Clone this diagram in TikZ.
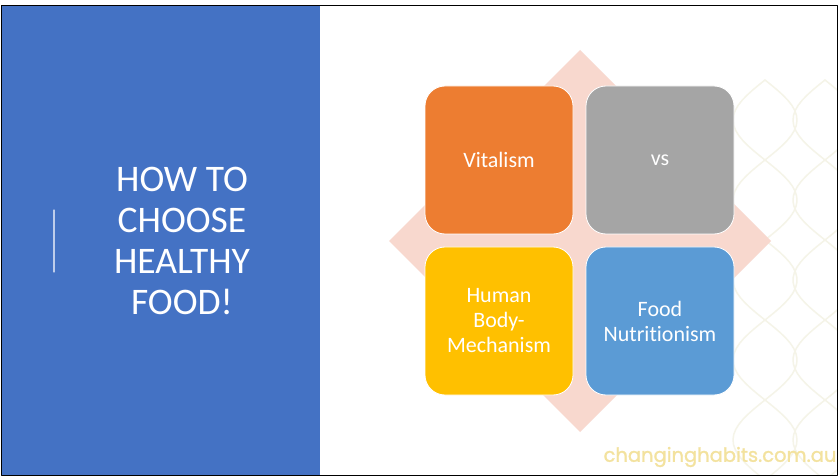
\documentclass[tikz,border=0pt]{standalone}
\usepackage{fontspec}
\setmainfont{Carlito}[Ligatures=NoCommon]
\newfontfamily\webfont{Poppins}[FakeBold=1.2]
\definecolor{Panel}{RGB}{68,114,196}
\definecolor{Dfill}{RGB}{248,216,206}
\definecolor{Ofill}{RGB}{237,125,49}
\definecolor{Gfill}{RGB}{165,165,165}
\definecolor{Yfill}{RGB}{255,192,0}
\definecolor{Bfill}{RGB}{91,155,213}
\definecolor{Mark}{RGB}{243,226,158}
\definecolor{Wave}{RGB}{245,244,232}
\definecolor{Rule}{RGB}{190,205,235}
\begin{document}
\begin{tikzpicture}[x=1pt,y=-1pt,line cap=round,line join=round,
  tile/.style={rectangle,rounded corners=20pt,draw=white,line width=0.8pt,minimum width=148pt,minimum height=148pt,inner sep=0pt,text=white,align=center,font=\fontsize{22}{25}\selectfont},
  wave/.style={draw=Wave,line width=1.5pt}]
\path[use as bounding box] (0,0) rectangle (839,476);
\fill[white] (0,0) rectangle (839,476);
\begin{scope}
\clip (320,5) rectangle (837,475);
\foreach \c in {765,825} {
  \draw[wave] plot[domain=80:480,samples=80] ({\c+32*sin(2.25*\x)},\x);
  \draw[wave] plot[domain=80:480,samples=80] ({\c-32*sin(2.25*\x)},\x);
}
\end{scope}
\fill[Panel] (1,5) rectangle (320,475);
\draw[Rule,line width=1.2pt] (54,210) -- (54,272);
\node[text=white,align=center,font=\fontsize{37.5}{41}\selectfont] (title) at (182,241) {HOW TO\\CHOOSE\\HEALTHY\\FOOD!};
\fill[Dfill] (580,50) -- (771,241) -- (580,432) -- (389,241) -- cycle;
\node[tile,fill=Ofill] (vital) at (499,160) {Vitalism};
\node[tile,fill=Gfill] (versus) at (660,160) {vs};
\node[tile,fill=Yfill] (body) at (499,321) {Human\\Body-\\Mechanism};
\node[tile,fill=Bfill] (nutri) at (660,321) {Food\\Nutritionism};
\node[text=Mark,font=\webfont\fontsize{19.5}{20}\selectfont] (site) at (720,457) {changinghabits.com.au};
\draw[line width=0.8pt] (1,5) rectangle (837,475);
\end{tikzpicture}
\end{document}
